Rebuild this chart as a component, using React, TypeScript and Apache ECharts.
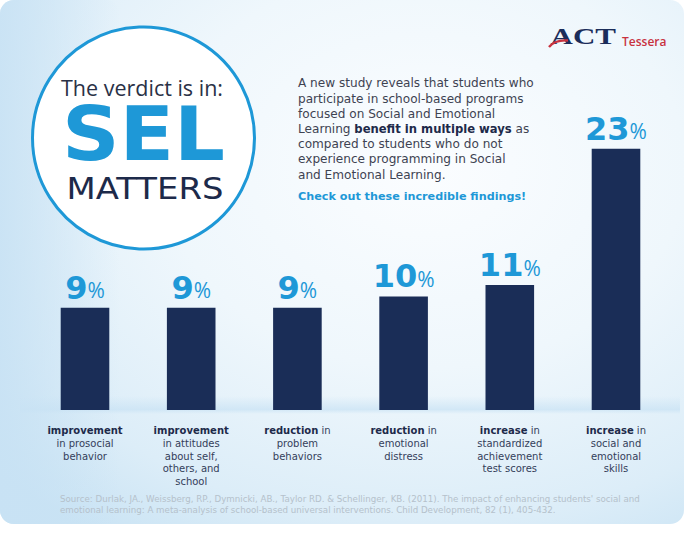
import React, { useEffect, useRef } from "react";
import * as echarts from "echarts";

const categories = [
  "improvement\nin prosocial\nbehavior",
  "improvement\nin attitudes\nabout self,\nothers, and\nschool",
  "reduction in\nproblem\nbehaviors",
  "reduction in\nemotional\ndistress",
  "increase in\nstandardized\nachievement\ntest scores",
  "increase in\nsocial and\nemotional\nskills",
];
const values = [9, 9, 9, 10, 11, 23];

const introLines = [
  "{n|A new study reveals that students who}",
  "{n|participate in school-based programs}",
  "{n|focused on Social and Emotional}",
  "{n|Learning }{b|benefit in multiple ways}{n| as}",
  "{n|compared to students who do not}",
  "{n|experience programming in Social}",
  "{n|and Emotional Learning.}",
];
const callout = "Check out these incredible findings!";
const sourceLines = [
  "Source: Durlak, JA., Weissberg, RP., Dymnicki, AB., Taylor RD. & Schellinger, KB. (2011). The impact of enhancing students' social and",
  "emotional learning: A meta-analysis of school-based universal interventions. Child Development, 82 (1), 405-432.",
];

const NAVY = "#1a2d57";
const BLUE = "#1e98d7";
const SANS = "'Open Sans', 'Noto Sans', sans-serif";
const DJ = "'DejaVu Sans', sans-serif";

export default function App() {
  const ref = useRef<HTMLDivElement>(null);
  useEffect(() => {
    if (!ref.current) return;
    const chart = echarts.init(ref.current, null, { renderer: "svg" });

    const introGraphics = introLines.map((line, i) => ({
      type: "text",
      z: 2,
      x: 298,
      y: 83.3 + i * 15.2,
      style: {
        text: line,
        align: "left",
        verticalAlign: "middle",
        rich: {
          n: { fontFamily: DJ, fontSize: 12.1, fill: "#3e4352" },
          b: { fontFamily: DJ, fontSize: 11.6, fontWeight: "bold", fill: "#1d2a4a" },
        },
      },
    }));

    const sourceGraphics = sourceLines.map((line, i) => ({
      type: "text",
      z: 2,
      x: 60,
      y: 499 + i * 11,
      style: {
        text: line,
        fontFamily: DJ,
        fontSize: 8.7,
        fill: "#b5c1cb",
        align: "left",
        verticalAlign: "middle",
      },
    }));

    const option: any = {
      animation: false,
      backgroundColor: "#ffffff",
      grid: { left: 31.9, right: 21.9, top: 126, bottom: 125, containLabel: false },
      xAxis: {
        type: "category",
        data: categories,
        axisLine: { show: false },
        axisTick: { show: false },
        axisLabel: {
          interval: 0,
          margin: 14,
          formatter: (v: string) => {
            const lines = v.split("\n");
            const first = lines[0];
            const idx = first.indexOf(" ");
            const head = idx < 0 ? first : first.slice(0, idx);
            const tail = idx < 0 ? "" : first.slice(idx);
            return (
              `{b|${head}}` +
              (tail ? `{n|${tail}}` : "") +
              lines
                .slice(1)
                .map((l) => `\n{n|${l}}`)
                .join("")
            );
          },
          rich: {
            b: { fontFamily: DJ, fontSize: 10, fontWeight: "bold", color: "#1d2a4a", lineHeight: 12.8 },
            n: { fontFamily: DJ, fontSize: 10, color: "#34405a", lineHeight: 12.8 },
          },
        },
      },
      yAxis: { type: "value", min: 0, max: 25, show: false, splitLine: { show: false } },
      series: [
        {
          type: "bar",
          data: values,
          barWidth: 48.6,
          itemStyle: { color: NAVY },
          z: 5,
          label: {
            show: true,
            position: "top",
            distance: 4,
            formatter: (p: any) => `{v|${p.value}}{p|%}`,
            rich: {
              v: { fontFamily: DJ, fontSize: 32, fontWeight: "bold", color: BLUE, verticalAlign: "bottom" },
              p: { fontFamily: SANS, fontSize: 21, color: BLUE, verticalAlign: "bottom", padding: [0, 0, 3, 0] },
            },
          },
        },
      ],
      graphic: [
        {
          type: "rect",
          z: -20,
          silent: true,
          shape: { x: 0, y: 0, width: 684, height: 524, r: 14 },
          style: {
            fill: new echarts.graphic.RadialGradient(0.62, 0.32, 0.85, [
              { offset: 0, color: "#fbfdff" },
              { offset: 0.45, color: "#eff7fc" },
              { offset: 0.8, color: "#dcedf8" },
              { offset: 1, color: "#c9e3f4" },
            ]),
          },
        },
        {
          type: "rect",
          z: -19,
          silent: true,
          shape: { x: 0, y: 0, width: 120, height: 524, r: 14 },
          style: {
            fill: new echarts.graphic.LinearGradient(0, 0, 1, 0, [
              { offset: 0, color: "rgba(200,226,244,0.9)" },
              { offset: 1, color: "rgba(200,226,244,0)" },
            ]),
          },
        },
        {
          type: "rect",
          z: -18,
          silent: true,
          shape: { x: 20, y: 396, width: 660, height: 18 },
          style: {
            fill: new echarts.graphic.LinearGradient(0, 0, 0, 1, [
              { offset: 0, color: "rgba(200,226,244,0)" },
              { offset: 0.75, color: "rgba(200,226,244,0.7)" },
              { offset: 1, color: "rgba(200,226,244,0)" },
            ]),
          },
        },
        {
          type: "circle",
          z: 1,
          silent: true,
          shape: { cx: 143.5, cy: 138, r: 111 },
          style: { fill: "#ffffff", stroke: BLUE, lineWidth: 3 },
        },
        {
          type: "text",
          z: 2,
          x: 142,
          y: 87,
          style: {
            text: "The verdict is in:",
            fontFamily: SANS,
            fontSize: 21.5,
            fill: "#2a3146",
            align: "center",
            verticalAlign: "middle",
          },
        },
        {
          type: "text",
          z: 2,
          x: 143.5,
          y: 135,
          scaleX: 1.08,
          style: {
            text: "SEL",
            fontFamily: DJ,
            fontSize: 74,
            fontWeight: "bold",
            fill: BLUE,
            align: "center",
            verticalAlign: "middle",
          },
        },
        {
          type: "text",
          z: 2,
          x: 145,
          y: 189,
          scaleX: 1.13,
          style: {
            text: "MATTERS",
            fontFamily: DJ,
            fontSize: 30,
            fill: "#1d2a4a",
            align: "center",
            verticalAlign: "middle",
          },
        },
        {
          type: "text",
          z: 2,
          x: 550.5,
          y: 36.7,
          scaleX: 1.35,
          style: {
            text: "ACT",
            fontFamily: "'Liberation Serif', serif",
            fontSize: 23,
            fontWeight: "bold",
            fill: "#1b2d5a",
            align: "left",
            verticalAlign: "middle",
          },
        },
        {
          type: "bezierCurve",
          z: 3,
          silent: true,
          shape: { x1: 549, y1: 47, x2: 568, y2: 40.5, cpx1: 553, cpy1: 42, cpx2: 560, cpy2: 40 },
          style: { stroke: "#c8323f", lineWidth: 2.4, fill: null },
        },
        {
          type: "text",
          z: 2,
          x: 622,
          y: 41.5,
          style: {
            text: "Tessera",
            fontFamily: SANS,
            fontSize: 12,
            fontWeight: 600,
            fill: "#c8323f",
            align: "left",
            verticalAlign: "middle",
          },
        },
        ...introGraphics,
        {
          type: "text",
          z: 2,
          x: 298,
          y: 196.7,
          style: {
            text: callout,
            fontFamily: DJ,
            fontSize: 11.2,
            fontWeight: "bold",
            fill: BLUE,
            align: "left",
            verticalAlign: "middle",
          },
        },
        ...sourceGraphics,
      ],
    };
    chart.setOption(option);
    return () => chart.dispose();
  }, []);
  return (
    <div
      ref={ref}
      style={{ position: "fixed", left: 0, top: 0, width: 691, height: 535 }}
    />
  );
}
